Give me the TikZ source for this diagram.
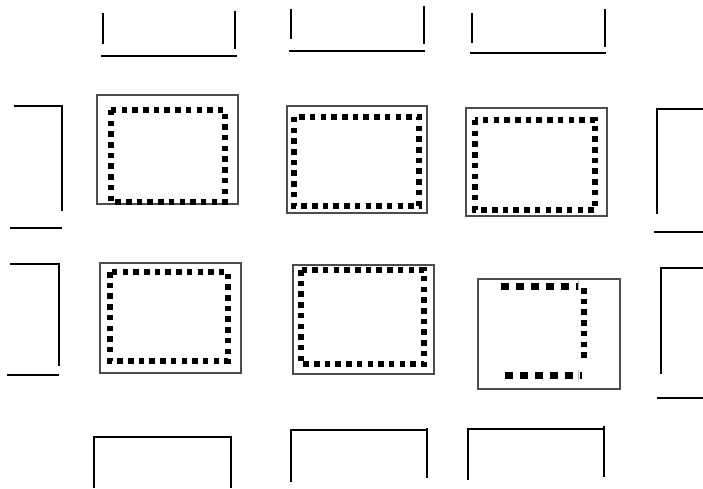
\documentclass[tikz,border=0pt]{standalone}
\begin{document}
\begin{tikzpicture}[x=1pt, y=-1pt,
    frame/.style={draw=black!70, line width=1.4pt},
    dots/.style={draw=black, line width=5.5pt, dash pattern=on 5.5pt off 5.2pt},
    bigdots/.style={draw=black, line width=7pt, dash pattern=on 7.5pt off 7.5pt},
    bracket/.style={draw=black, line width=2pt}
    ]
    \useasboundingbox (0,0) rectangle (703,489);
    % top row of cells
    \draw[frame] (97,95) rectangle (238,204);
    \draw[dots] (111,110) rectangle (225,202);
    \draw[frame] (287,106) rectangle (427,213);
    \draw[dots] (294,117) rectangle (419,206);
    \draw[frame] (466,108) rectangle (607,216);
    \draw[dots] (475,120) rectangle (595,210);
    % bottom row of cells
    \draw[frame] (100,263) rectangle (241,373);
    \draw[dots] (110,272) rectangle (228,361);
    \draw[frame] (293,265) rectangle (434,374);
    \draw[dots] (301,270) rectangle (424,364);
    \draw[frame] (478,279) rectangle (620,389);
    \draw[bigdots] (501,286) -- (578,286);
    \draw[dots] (584,288) -- (584,359);
    \draw[bigdots] (505,375) -- (582,375);
    \draw[black!30, line width=1pt] (578,281) -- (578,290) (578,370) -- (578,380);
    % top brackets
    \draw[bracket] (103,13) -- (103,44) (235,11) -- (235,49) (101,56) -- (237,56);
    \draw[bracket] (291,9) -- (291,39) (424,6) -- (424,44) (289,51) -- (425,51);
    \draw[bracket] (472,13) -- (472,43) (605,9) -- (605,47) (470,53) -- (606,53);
    % bottom brackets
    \draw[bracket] (94,488) -- (94,437) -- (231,437) -- (231,488);
    \draw[bracket] (291,482) -- (291,430) -- (427,430) (427,428) -- (427,478);
    \draw[bracket] (468,480) -- (468,429) -- (604,429) (604,426) -- (604,477);
    % left brackets
    \draw[bracket] (14,106) -- (62,106) -- (62,211) (10,228) -- (62,228);
    \draw[bracket] (10,264) -- (59,264) -- (59,366) (7,375) -- (59,375);
    % right brackets
    \draw[bracket] (703,109) -- (657,109) -- (657,214) (654,232) -- (703,232);
    \draw[bracket] (703,268) -- (661,268) -- (661,374) (657,398) -- (703,398);
  \end{tikzpicture}
\end{document}
